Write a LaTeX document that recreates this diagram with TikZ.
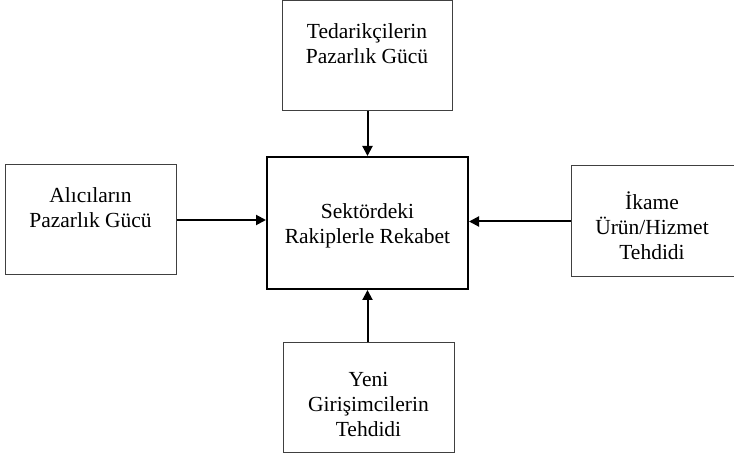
\documentclass[tikz,border=0pt]{standalone}
\usepackage{fontspec}
\setmainfont{Liberation Serif}
\usetikzlibrary{arrows.meta,calc}
\begin{document}
\begin{tikzpicture}[x=1pt,y=-1pt,
  box/.style={draw=black!75,line width=1pt,inner sep=0pt,fill=white},
  mainbox/.style={draw=black,line width=2pt,inner sep=0pt},
  txt/.style={align=center,font=\fontsize{21.5}{25}\selectfont,inner sep=0pt},
  arr/.style={draw=black,line width=2pt,-{Triangle[length=10pt,width=10pt]}}]
\useasboundingbox[fill=white] (0,0) rectangle (734,457);
% boxes
\node[box,minimum width=170pt,minimum height=110pt] (top) at (367,56) {};
\node[box,minimum width=171pt,minimum height=110pt] (left) at (90.5,220) {};
\node[mainbox,minimum width=201pt,minimum height=132pt] (center) at (367.5,223) {};
\node[box,minimum width=164pt,minimum height=111pt] (right) at (653,221.5) {};
\node[box,minimum width=171pt,minimum height=110pt] (bottom) at (368.5,397) {};
% texts
\node[txt] (ttop) at (367,44) {Tedarikçilerin\\Pazarlık Gücü};
\node[txt] (tleft) at (90.5,208) {Alıcıların\\Pazarlık Gücü};
\node[txt] (tcenter) at (367.5,226) {Sektördeki\\Rakiplerle Rekabet};
\node[txt] (tright) at (652,226) {İkame\\Ürün/Hizmet\\Tehdidi};
\node[txt] (tbottom) at (368.5,404) {Yeni\\Girişimcilerin\\Tehdidi};
% arrows
\draw[arr] (top.south -| center.north) -- (center.north);
\draw[arr] (bottom.north -| center.south) -- (center.south);
\draw[arr] (left.east) -- (left.east -| center.west);
\draw[arr] (right.west) -- (right.west -| center.east);
\end{tikzpicture}
\end{document}
